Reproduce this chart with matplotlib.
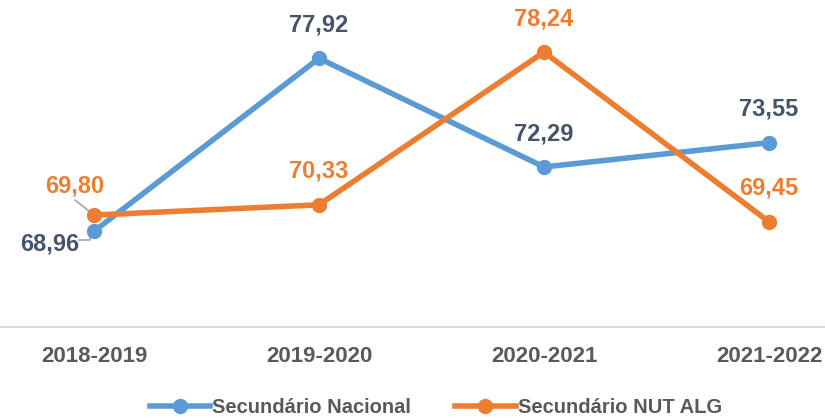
import matplotlib
matplotlib.use('Agg')
import matplotlib.pyplot as plt

years = ['2018-2019', '2019-2020', '2020-2021', '2021-2022']
nacional = [68.96, 77.92, 72.29, 73.55]
nut_alg = [69.80, 70.33, 78.24, 69.45]

blue = '#5B9BD5'
orange = '#ED7D31'
blue_txt = '#44546A'
grey_txt = '#595959'

plt.rcParams['font.family'] = ['Liberation Sans', 'DejaVu Sans']
plt.rcParams['font.weight'] = 'bold'

fig = plt.figure(figsize=(8.25, 4.2), dpi=100)
ax = fig.add_axes([0, 0.2214, 1, 0.7786])

x = range(len(years))
ax.plot(x, nacional, '-o', color=blue, lw=4, ms=10, label='Secundário Nacional', zorder=3)
ax.plot(x, nut_alg, '-o', color=orange, lw=4, ms=10, label='Secundário NUT ALG', zorder=4)

ax.set_xlim(-0.418, 3.249)
ax.set_ylim(64, 80.94)

def fmt(v):
    return f'{v:.2f}'.replace('.', ',')

# labels above points
for i in range(1, 4):
    ax.annotate(fmt(nacional[i]), (i, nacional[i]), xytext=(0, 24), textcoords='offset points',
                ha='center', va='center', fontsize=17, color=blue_txt, fontweight='bold')
    ax.annotate(fmt(nut_alg[i]), (i, nut_alg[i]), xytext=(0, 24), textcoords='offset points',
                ha='center', va='center', fontsize=17, color=orange, fontweight='bold')

# first category labels moved with leader lines
ax.annotate(fmt(nut_alg[0]), (0, nut_alg[0]), xytext=(-14, 21), textcoords='offset points',
            ha='center', va='center', fontsize=17, color=orange, fontweight='bold')
ax.plot([-0.084, -0.027], [70.57, 70.05], color='#A6A6A6', lw=1.2, zorder=2)
ax.annotate(fmt(nacional[0]), (0, nacional[0]), xytext=(-32, -9), textcoords='offset points',
            ha='center', va='center', fontsize=17, color=blue_txt, fontweight='bold')
ax.plot([-0.067, -0.018, -0.018], [68.51, 68.51, 68.8], color='#A6A6A6', lw=1.2, zorder=2)

for s in ['top', 'right', 'left']:
    ax.spines[s].set_visible(False)
ax.spines['bottom'].set_color('#D9D9D9')
ax.spines['bottom'].set_linewidth(1.5)
ax.set_yticks([])
ax.set_xticks(list(x))
ax.set_xticklabels(years, fontsize=16, color=grey_txt, fontweight='bold')
ax.tick_params(axis='x', length=0, pad=14)

fig.legend(loc='center', bbox_to_anchor=(0.528, 0.029), ncol=2, frameon=False,
           prop={'size': 14.5, 'weight': 'bold'}, labelcolor=grey_txt,
           handlelength=3.0, handletextpad=0.1, columnspacing=2.2, borderaxespad=0)

fig.savefig('out.png', dpi=100)
